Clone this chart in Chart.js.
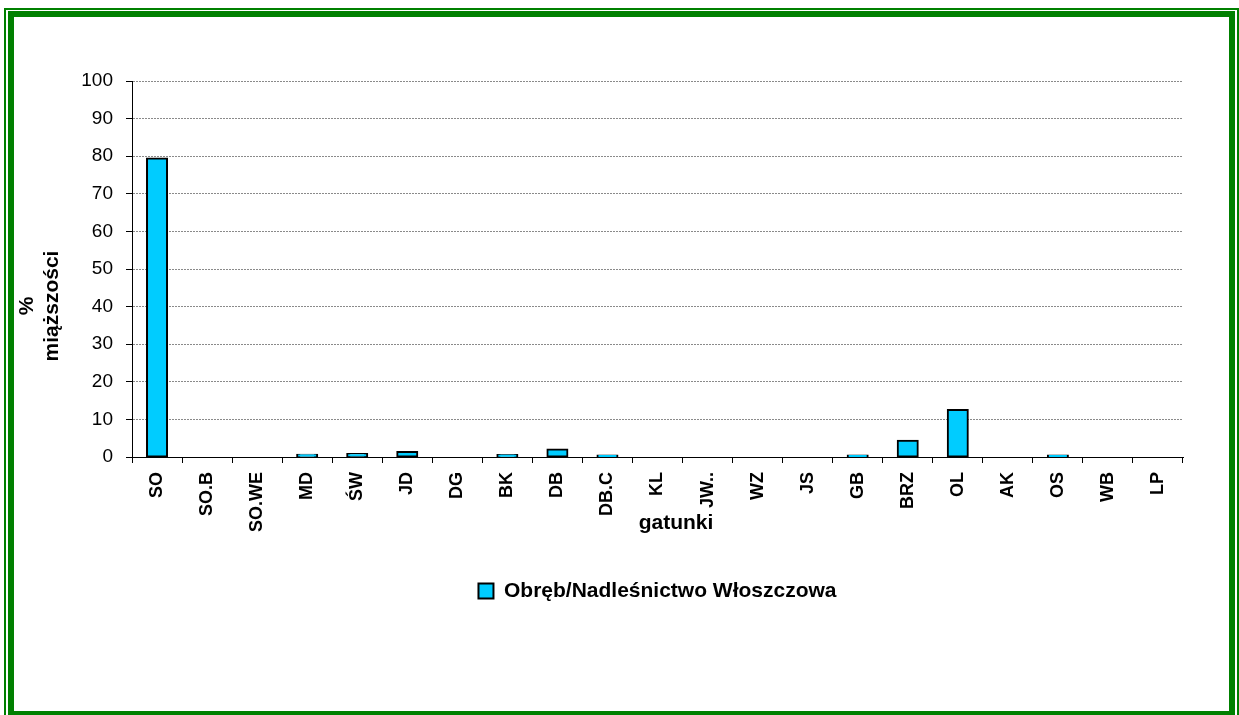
<!DOCTYPE html>
<html>
<head>
<meta charset="utf-8">
<script src="https://cdn.jsdelivr.net/npm/chart.js@4.4.1/dist/chart.umd.min.js"></script>
<style>
  body { margin: 0; background: #fff; overflow: hidden; }
  #ramka1 { position: absolute; left: 4px; top: 8px; width: 1235px; height: 712px; border: 2px solid #008000; box-sizing: border-box; }
  #ramka2 { position: absolute; left: 8px; top: 11px; width: 1227px; height: 706px; border: 6px solid #008000; box-sizing: border-box; }
  #wykres { position: absolute; left: 0; top: 0; width: 1239px; height: 715px; }
</style>
</head>
<body>
<div id="ramka1"></div>
<div id="ramka2"></div>
<div id="wykres"><canvas id="canvas_gatunki"></canvas></div>
<script>
// gatunki drzew i udzial miazszosci w procentach
const gatunki = ['SO', 'SO.B', 'SO.WE', 'MD', 'ŚW', 'JD', 'DG', 'BK', 'DB', 'DB.C', 'KL',
    'JW..', 'WZ', 'JS', 'GB', 'BRZ', 'OL', 'AK', 'OS', 'WB', 'LP'];
const procentMiazszosci = [79.4, 0, 0, 0.6, 0.8, 1.3, 0, 0.5, 2.0, 0.4, 0,
    0, 0, 0, 0.4, 4.3, 12.5, 0, 0.4, 0, 0];
const nazwaSerii = 'Obręb/Nadleśnictwo Włoszczowa';
const tytulY = ['%', 'miąższości'];
const tytulX = 'gatunki';

const czcionka = '"Liberation Sans", Arial, sans-serif';

// tytuly osi rysowane recznie, bo Excel je przesuwa
const tytulyOsi = {
    id: 'tytulyOsi',
    afterDraw(chart) {
        const ctx = chart.ctx;
        ctx.save();
        ctx.fillStyle = '#000';
        ctx.font = 'bold 21px ' + czcionka;
        ctx.textAlign = 'center';
        ctx.textBaseline = 'alphabetic';
        const xs = [33, 58];
        for (let i = 0; i < tytulY.length; i++) {
            ctx.save();
            ctx.translate(xs[i], 306);
            ctx.rotate(-Math.PI / 2);
            ctx.fillText(tytulY[i], 0, 0);
            ctx.restore();
        }
        ctx.fillText(tytulX, 676, 529);
        ctx.restore();
    }
};

new Chart(document.getElementById('canvas_gatunki'), {
    type: 'bar',
    data: {
        labels: gatunki,
        datasets: [{
            label: nazwaSerii,
            data: procentMiazszosci,
            backgroundColor: '#00CCFF',
            borderColor: '#000',
            borderWidth: 2,
            borderSkipped: false,
            inflateAmount: 1,
            barPercentage: 0.4,
            categoryPercentage: 1
        }]
    },
    options: {
        responsive: true,
        maintainAspectRatio: false,
        animation: false,
        layout: { padding: { left: 0, top: 81, right: 56, bottom: 103.5 } },
        plugins: {
            tooltip: { enabled: false },
            legend: {
                position: 'bottom',
                fullSize: false,
                labels: {
                    color: '#000',
                    font: { family: czcionka, size: 21, weight: 'bold' },
                    boxWidth: 15,
                    boxHeight: 15,
                    padding: 10
                }
            }
        },
        scales: {
            x: {
                grid: { offset: true, drawOnChartArea: false, tickLength: 6, tickColor: '#000' },
                border: { color: '#000', width: 1 },
                ticks: {
                    color: '#000',
                    font: { family: czcionka, size: 18, weight: 'bold' },
                    minRotation: 90,
                    maxRotation: 90,
                    autoSkip: false,
                    padding: 9
                },
                afterFit: (skala) => { skala.height = 113.5; }
            },
            y: {
                min: 0,
                max: 100,
                ticks: {
                    stepSize: 10,
                    color: '#000',
                    font: { family: czcionka, size: 19 },
                    padding: 13
                },
                grid: { color: '#8a8a8a', tickColor: '#000', tickLength: 6 },
                border: { color: '#000', width: 1, dash: [2, 1] },
                afterFit: (skala) => { skala.width = 132; }
            }
        }
    },
    plugins: [tytulyOsi]
});
</script>
</body>
</html>
